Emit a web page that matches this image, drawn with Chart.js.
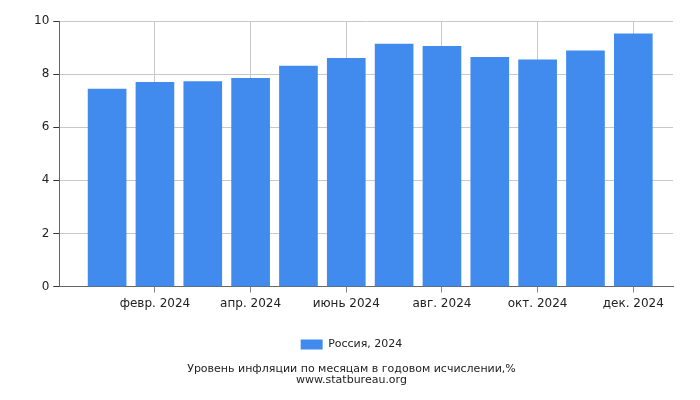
<!DOCTYPE html>
<html>
<head>
<meta charset="utf-8">
<script src="https://cdn.jsdelivr.net/npm/chart.js@4/dist/chart.umd.min.js"></script>
<style>
  html, body { margin: 0; padding: 0; background: #fff; }
  #wrap { width: 700px; height: 400px; }
</style>
</head>
<body>
<div id="wrap"><canvas id="chart" width="700" height="400"></canvas></div>
<script>
const months = ['янв. 2024', 'февр. 2024', 'март 2024', 'апр. 2024', 'май 2024', 'июнь 2024',
  'июль 2024', 'авг. 2024', 'сент. 2024', 'окт. 2024', 'нояб. 2024', 'дек. 2024'];
const inflation = [7.44, 7.69, 7.72, 7.84, 8.30, 8.59, 9.13, 9.05, 8.63, 8.54, 8.88, 9.52];
const seriesName = 'Россия, 2024';

const ctx = document.getElementById('chart').getContext('2d');
const font = { family: 'DejaVu Sans', size: 12 };

new Chart(ctx, {
  type: 'bar',
  data: {
    datasets: [{
      label: seriesName,
      data: inflation.map((v, i) => ({ x: i + 1, y: v })),
      backgroundColor: '#418bef',
      barThickness: 38
    }]
  },
  options: {
    responsive: false,
    animation: false,
    layout: { padding: { left: 30, right: 27, top: 21, bottom: 12 } },
    plugins: {
      legend: {
        position: 'bottom',
        labels: { font: { family: 'DejaVu Sans', size: 11 }, color: '#222', boxWidth: 22, boxHeight: 10, padding: 24 }
      },
      title: {
        display: true,
        position: 'bottom',
        text: ['Уровень инфляции по месяцам в годовом исчислении,%', 'www.statbureau.org'],
        font: { family: 'DejaVu Sans', size: 11, weight: 'normal', lineHeight: 1.0 },
        color: '#222',
        padding: { top: 4, bottom: 2 }
      },
      tooltip: { enabled: false }
    },
    scales: {
      x: {
        type: 'linear',
        offset: false,
        min: 0,
        max: 12.83,
        afterBuildTicks: axis => { axis.ticks = [2, 4, 6, 8, 10, 12].map(v => ({ value: v })); },
        ticks: {
          callback: v => months[v - 1],
          font: font, color: '#222', maxRotation: 0, padding: 4
        },
        grid: { offset: false, color: '#c8c8c8', drawTicks: true, tickLength: 6, tickColor: '#888' },
        border: { color: '#666' }
      },
      y: {
        min: 0,
        max: 10,
        ticks: { stepSize: 2, font: font, color: '#222', padding: 4 },
        grid: { color: '#c8c8c8', tickLength: 6, tickColor: '#333' },
        border: { color: '#666' }
      }
    }
  }
});
</script>
</body>
</html>
